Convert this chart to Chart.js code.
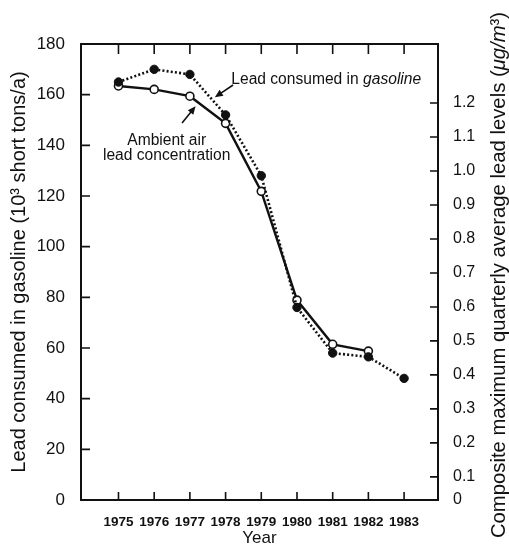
<!DOCTYPE html>
<html>
<head>
<meta charset="utf-8">
<script src="https://cdn.jsdelivr.net/npm/chart.js@4.4.0/dist/chart.umd.min.js"></script>
<style>
  html, body { margin: 0; padding: 0; background: #fff; }
  #chart { display: block; }
</style>
</head>
<body>
<canvas id="chart" width="509" height="547"></canvas>
<script>
// Years (x axis)
const years = [1975, 1976, 1977, 1978, 1979, 1980, 1981, 1982, 1983];
// Lead consumed in gasoline, 10^3 short tons/a (left axis)
const leadConsumed = [165, 170, 168, 152, 128, 76, 58, 56.5, 48];
// Ambient air lead concentration, ug/m3 (right axis) - no 1983 reading
const ambientLead = [1.25, 1.24, 1.22, 1.14, 0.94, 0.62, 0.49, 0.47, null];
// Tick labels
const leftTicks = [0, 20, 40, 60, 80, 100, 120, 140, 160, 180];
const rightTicks = [0, 0.1, 0.2, 0.3, 0.4, 0.5, 0.6, 0.7, 0.8, 0.9, 1.0, 1.1, 1.2];

const FONT = '"Liberation Sans", Arial, Helvetica, sans-serif';
const INK = '#111';

// pair years with values, skipping the missing ones
function toPoints(values) {
    return years
        .map((yr, i) => ({ x: yr, y: values[i] }))
        .filter(p => p.y !== null);
}

// draws a line with a filled arrow head at (x2, y2)
function arrow(ctx, x1, y1, x2, y2) {
    const ang = Math.atan2(y2 - y1, x2 - x1);
    const len = 8, half = 3.5;
    ctx.beginPath();
    ctx.moveTo(x1, y1);
    ctx.lineTo(x2 - Math.cos(ang) * len * 0.8, y2 - Math.sin(ang) * len * 0.8);
    ctx.stroke();
    ctx.beginPath();
    ctx.moveTo(x2, y2);
    ctx.lineTo(x2 - Math.cos(ang) * len - Math.sin(ang) * half, y2 - Math.sin(ang) * len + Math.cos(ang) * half);
    ctx.lineTo(x2 - Math.cos(ang) * len + Math.sin(ang) * half, y2 - Math.sin(ang) * len - Math.cos(ang) * half);
    ctx.closePath();
    ctx.fill();
}

// text made of [string, italic] parts
function partsWidth(ctx, parts, size) {
    let w = 0;
    parts.forEach(([s, it]) => {
        ctx.font = (it ? 'italic ' : '') + size + 'px ' + FONT;
        w += ctx.measureText(s).width;
    });
    return w;
}
function drawParts(ctx, parts, size, x, y) {
    parts.forEach(([s, it]) => {
        ctx.font = (it ? 'italic ' : '') + size + 'px ' + FONT;
        ctx.fillText(s, x, y);
        x += ctx.measureText(s).width;
    });
}

// Frame, inward ticks, annotations and right-hand title
const decorations = {
    id: 'decorations',
    afterDatasetsDraw(chart) {
        const { ctx, chartArea: a, scales } = chart;
        const x = scales.x, yL = scales.y, yR = scales.y2;
        ctx.save();
        ctx.strokeStyle = INK;
        ctx.fillStyle = INK;

        // box
        ctx.lineWidth = 2;
        ctx.strokeRect(a.left, a.top, a.right - a.left, a.bottom - a.top);

        // ticks pointing into the plot
        ctx.lineWidth = 1.6;
        ctx.beginPath();
        years.forEach(yr => {
            const px = x.getPixelForValue(yr);
            ctx.moveTo(px, a.bottom); ctx.lineTo(px, a.bottom - 8);
            ctx.moveTo(px, a.top); ctx.lineTo(px, a.top + 10);
        });
        leftTicks.slice(1, -1).forEach(v => {
            const py = yL.getPixelForValue(v);
            ctx.moveTo(a.left, py); ctx.lineTo(a.left + 9, py);
        });
        rightTicks.slice(1).forEach(v => {
            const py = yR.getPixelForValue(v);
            ctx.moveTo(a.right, py); ctx.lineTo(a.right - 8, py);
        });
        ctx.stroke();

        // annotation arrows (data coordinates on the left axis)
        ctx.lineWidth = 1.6;
        arrow(ctx, x.getPixelForValue(1978.21), yL.getPixelForValue(163.8),
                   x.getPixelForValue(1977.70), yL.getPixelForValue(159.0));
        arrow(ctx, x.getPixelForValue(1976.78), yL.getPixelForValue(148.8),
                   x.getPixelForValue(1977.16), yL.getPixelForValue(155.4));

        // annotation labels
        ctx.textBaseline = 'middle';
        ctx.textAlign = 'left';
        drawParts(ctx, [['Lead consumed in ', false], ['gasoline', true]], 15.6,
                  x.getPixelForValue(1978.16), yL.getPixelForValue(165.8));
        ctx.textAlign = 'center';
        ctx.font = '15.6px ' + FONT;
        const cx = x.getPixelForValue(1976.35);
        ctx.fillText('Ambient air', cx, yL.getPixelForValue(141.8));
        ctx.fillText('lead concentration', cx, yL.getPixelForValue(135.9));

        // right axis title, reading bottom to top
        const titleParts = [
            ['Composite maximum quarterly average lead levels (', false],
            ['\u03bcg/m', true],
            ['\u00b3)', false]
        ];
        ctx.translate(499, (a.top + a.bottom) / 2 + 3);
        ctx.rotate(-Math.PI / 2);
        ctx.textAlign = 'left';
        const w = partsWidth(ctx, titleParts, 20.3);
        drawParts(ctx, titleParts, 20.3, -w / 2, 0);
        ctx.restore();
    }
};

new Chart(document.getElementById('chart'), {
    type: 'line',
    data: {
        datasets: [
            {
                label: 'Lead consumed in gasoline',
                data: toPoints(leadConsumed),
                yAxisID: 'y',
                borderColor: INK,
                borderWidth: 2.6,
                borderDash: [2, 2.2],
                backgroundColor: INK,
                pointBackgroundColor: INK,
                pointBorderColor: INK,
                pointRadius: 4.2,
                pointBorderWidth: 1,
                tension: 0
            },
            {
                label: 'Ambient air lead concentration',
                data: toPoints(ambientLead),
                yAxisID: 'y2',
                borderColor: INK,
                borderWidth: 2.4,
                backgroundColor: '#fff',
                pointBackgroundColor: '#fff',
                pointBorderColor: INK,
                pointRadius: 4,
                pointBorderWidth: 1.6,
                tension: 0
            }
        ]
    },
    options: {
        responsive: false,
        animation: false,
        layout: { padding: { top: 44, left: 0, right: 0, bottom: 0 } },
        plugins: {
            legend: { display: false },
            tooltip: { enabled: false }
        },
        scales: {
            x: {
                type: 'linear',
                min: 1973.95,
                max: 1983.95,
                afterBuildTicks: scale => { scale.ticks = years.map(v => ({ value: v })); },
                afterFit: scale => { scale.height = 47; },
                grid: { display: false },
                border: { display: false },
                ticks: {
                    color: INK,
                    font: { family: FONT, size: 13.5, weight: 'bold' },
                    padding: 6,
                    maxRotation: 0,
                    autoSkip: false,
                    callback: v => String(v)
                },
                title: {
                    display: true,
                    text: 'Year',
                    color: INK,
                    font: { family: FONT, size: 17, lineHeight: 1 },
                    padding: { top: 0, bottom: 0 }
                }
            },
            y: {
                position: 'left',
                min: 0,
                max: 180,
                afterBuildTicks: scale => { scale.ticks = leftTicks.map(v => ({ value: v })); },
                afterFit: scale => { scale.width = 81; },
                grid: { display: false },
                border: { display: false },
                ticks: {
                    color: INK,
                    font: { family: FONT, size: 17 },
                    padding: 8
                },
                title: {
                    display: true,
                    text: 'Lead consumed in gasoline (10\u00b3 short tons/a)',
                    color: INK,
                    font: { family: FONT, size: 20, lineHeight: 1 },
                    padding: { top: 9, bottom: 0 }
                }
            },
            y2: {
                position: 'right',
                min: 0.032,
                max: 1.3735,
                afterBuildTicks: scale => {
                    scale.ticks = rightTicks.map(v => ({ value: v === 0 ? scale.min : v }));
                },
                afterFit: scale => { scale.width = 71; },
                grid: { display: false },
                border: { display: false },
                ticks: {
                    color: INK,
                    font: { family: FONT, size: 16 },
                    padding: 7,
                    callback: v => (v < 0.05 ? '0' : v.toFixed(1))
                }
            }
        }
    },
    plugins: [decorations]
});
</script>
</body>
</html>
